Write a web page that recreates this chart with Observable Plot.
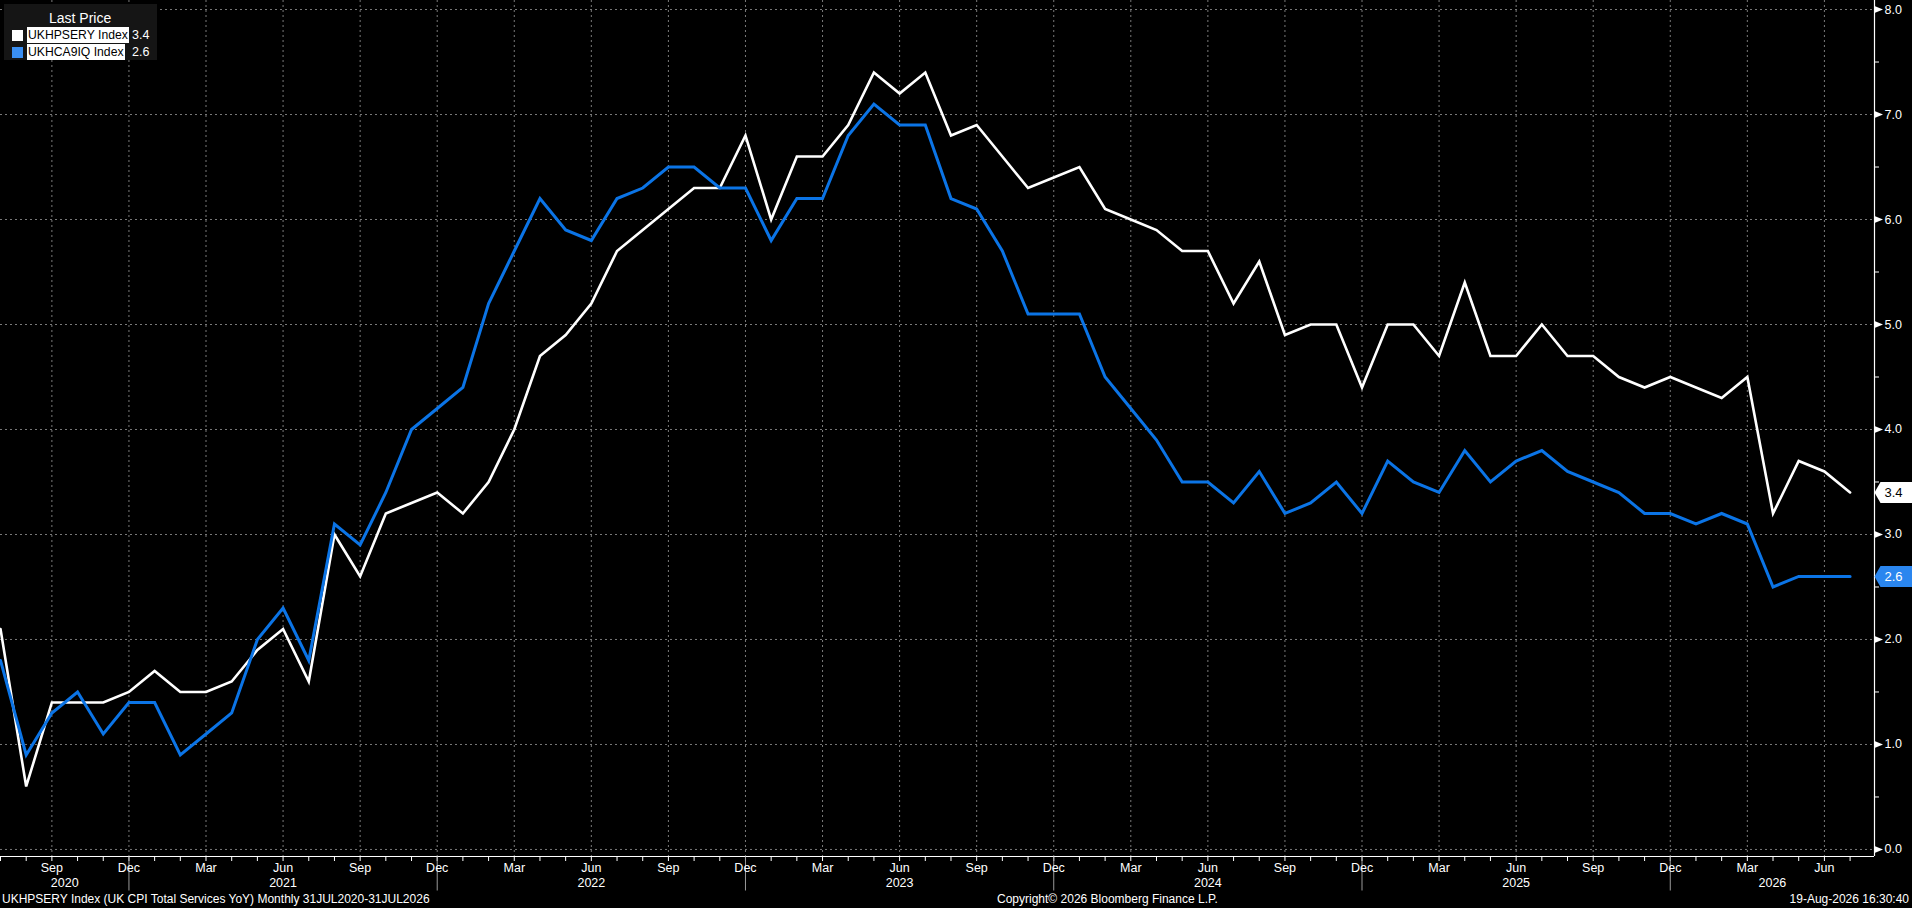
<!DOCTYPE html>
<html>
<head>
<meta charset="utf-8">
<script src="https://cdn.jsdelivr.net/npm/d3@7"></script>
<script src="https://cdn.jsdelivr.net/npm/@observablehq/plot@0.6"></script>
<style>
html, body { margin: 0; padding: 0; background: #000; }
#wrap { position: relative; width: 1912px; height: 908px; overflow: hidden; background: #000;
        font-family: "Liberation Sans", Arial, sans-serif; color: #fff; }
#chart { position: absolute; left: 0; top: 0; }
.abs { position: absolute; white-space: nowrap; }
#legendBox { position: absolute; left: 4px; top: 4px; width: 153px; height: 56px; background: #151515; }
.lgTitle { font-size: 14px; line-height: 16px; }
.lgName { background: #fff; color: #000; font-size: 12.2px; line-height: 16px; padding: 0 1px; }
.lgVal { font-size: 12.5px; line-height: 16px; color: #fff; }
.cap { font-size: 12px; line-height: 17px; color: #fff; }
</style>
</head>
<body>
<div id="wrap">
  <div id="chart"></div>
  <div id="legendBox"></div>
  <div id="legend"></div>
  <div id="caption"></div>
</div>
<script>
// ---------------- DATA ----------------
const firstMonth = "2020-07-01";
const lastMonth = "2026-07-01";

// UKHPSERY Index (UK CPI Total Services YoY), monthly Jul 2020 .. Jul 2026
const servicesYoY = [
  2.1, 0.6, 1.4, 1.4, 1.4, 1.5, 1.7, 1.5, 1.5, 1.6, 1.9, 2.1,
  1.6, 3.0, 2.6, 3.2, 3.3, 3.4, 3.2, 3.5, 4.0, 4.7, 4.9, 5.2,
  5.7, 5.9, 6.1, 6.3, 6.3, 6.8, 6.0, 6.6, 6.6, 6.9, 7.4, 7.2,
  7.4, 6.8, 6.9, 6.6, 6.3, 6.4, 6.5, 6.1, 6.0, 5.9, 5.7, 5.7,
  5.2, 5.6, 4.9, 5.0, 5.0, 4.4, 5.0, 5.0, 4.7, 5.4, 4.7, 4.7,
  5.0, 4.7, 4.7, 4.5, 4.4, 4.5, 4.4, 4.3, 4.5, 3.2, 3.7, 3.6,
  3.4
];

// UKHCA9IQ Index, monthly Jul 2020 .. Jul 2026
const coreYoY = [
  1.8, 0.9, 1.3, 1.5, 1.1, 1.4, 1.4, 0.9, 1.1, 1.3, 2.0, 2.3,
  1.8, 3.1, 2.9, 3.4, 4.0, 4.2, 4.4, 5.2, 5.7, 6.2, 5.9, 5.8,
  6.2, 6.3, 6.5, 6.5, 6.3, 6.3, 5.8, 6.2, 6.2, 6.8, 7.1, 6.9,
  6.9, 6.2, 6.1, 5.7, 5.1, 5.1, 5.1, 4.5, 4.2, 3.9, 3.5, 3.5,
  3.3, 3.6, 3.2, 3.3, 3.5, 3.2, 3.7, 3.5, 3.4, 3.8, 3.5, 3.7,
  3.8, 3.6, 3.5, 3.4, 3.2, 3.2, 3.1, 3.2, 3.1, 2.5, 2.6, 2.6,
  2.6
];

const seriesNames = ["UKHPSERY Index", "UKHCA9IQ Index"];
const seriesColors = ["#ffffff", "#0b74e6"];
const tagColors = ["#ffffff", "#2a86ef"];
const tagTextColors = ["#000000", "#ffffff"];
const legendSwatch = ["#ffffff", "#3a8ef2"];
const legendTitle = "Last Price";

const yTicks = [0, 1, 2, 3, 4, 5, 6, 7, 8];
const yMinorTicks = [0.5, 1.5, 2.5, 3.5, 4.5, 5.5, 6.5, 7.5];
const monthNames = ["Jan","Feb","Mar","Apr","May","Jun","Jul","Aug","Sep","Oct","Nov","Dec"];
const quarterMonths = [2, 5, 8, 11]; // Mar, Jun, Sep, Dec (0-based)

const captionLeft = "UKHPSERY Index (UK CPI Total Services YoY) Monthly 31JUL2020-31JUL2026";
const captionCenter = "Copyright\u00A9 2026 Bloomberg Finance L.P.";
const captionRight = "19-Aug-2026 16:30:40";

// ---------------- BUILD ----------------
const months = d3.utcMonth.range(new Date(firstMonth), d3.utcMonth.offset(new Date(lastMonth), 1));
const rows = months.map((m, i) => ({ i, date: m, s0: servicesYoY[i], s1: coreYoY[i] }));
const seriesKeys = ["s0", "s1"];
const series = [servicesYoY, coreYoY];

const X_END = 72.95;            // right edge of the time axis (month index)
const Y_MIN = -0.067, Y_MAX = 8.086;

const monthIdx = rows.map(r => r.i);
const quarterIdx = rows.filter(r => quarterMonths.includes(r.date.getUTCMonth())).map(r => r.i);
const sepIdx = rows.filter(r => r.date.getUTCMonth() === 11).map(r => r.i);
const bounds = [0, ...sepIdx, X_END];
const yearLabels = [];
for (let k = 0; k < bounds.length - 1; k++) {
  const a = bounds[k], b = bounds[k + 1];
  const yr = months[Math.min(Math.ceil(a) + (k === 0 ? 0 : 1), months.length - 1)].getUTCFullYear();
  yearLabels.push({ x: (a + b) / 2, text: String(yr) });
}

// custom symbols
const tickDown = { draw(c) { c.moveTo(0, 0); c.lineTo(0, 4.5); } };
const sepDown = { draw(c) { c.moveTo(0, 0); c.lineTo(0, 34); } };
const tickRight = { draw(c) { c.moveTo(0, 0); c.lineTo(4.5, 0); } };
const arrowRight = { draw(c) { c.moveTo(0, -3.5); c.lineTo(8.5, 0); c.lineTo(0, 3.5); c.closePath(); } };
const tagShape = { draw(c) { c.moveTo(0, 0); c.lineTo(6, -10.5); c.lineTo(40, -10.5); c.lineTo(40, 10.5); c.lineTo(6, 10.5); c.closePath(); } };

const gridColor = "#7a7a7a";
const marks = [
  Plot.ruleY(yTicks, { stroke: gridColor, strokeDasharray: "2,3", strokeWidth: 1 }),
  Plot.ruleX(quarterIdx, { stroke: gridColor, strokeDasharray: "2,3", strokeWidth: 1 }),
  // axes lines
  Plot.ruleY([Y_MIN], { stroke: "#fff", strokeWidth: 1.2 }),
  Plot.ruleX([X_END], { stroke: "#fff", strokeWidth: 1.2 }),
  // x ticks
  Plot.dot(monthIdx, { x: d => d, y: Y_MIN, symbol: tickDown, stroke: "#fff", fill: "none", strokeWidth: 1 }),
  Plot.dot(sepIdx, { x: d => d, y: Y_MIN, symbol: sepDown, stroke: "#9a9a9a", fill: "none", strokeWidth: 1 }),
  Plot.text(quarterIdx, { x: d => d, y: Y_MIN, dy: 11, text: d => monthNames[months[d].getUTCMonth()],
    fill: "#fff", fontSize: 12.5, lineAnchor: "middle" }),
  Plot.text(yearLabels, { x: "x", y: Y_MIN, dy: 26, text: "text", fill: "#fff", fontSize: 12.5, lineAnchor: "middle" }),
  // y ticks
  Plot.dot(yMinorTicks, { x: X_END, y: d => d, symbol: tickRight, stroke: "#fff", fill: "none", strokeWidth: 1 }),
  Plot.dot(yTicks, { x: X_END, y: d => d, symbol: arrowRight, fill: "#fff", stroke: "none" }),
  Plot.text(yTicks, { x: X_END, y: d => d, text: d => d.toFixed(1), textAnchor: "start", dx: 10,
    fill: "#fff", fontSize: 12.5, lineAnchor: "middle" })
];

// lines: white first, blue on top
[0, 1].forEach(k => {
  marks.push(Plot.line(rows, { x: "i", y: seriesKeys[k], stroke: seriesColors[k],
    strokeWidth: k === 0 ? 2.6 : 3, strokeLinejoin: "miter", strokeMiterlimit: 4, curve: "linear" }));
});

// last value tags
[0, 1].forEach(k => {
  const last = [{ v: series[k][series[k].length - 1] }];
  marks.push(Plot.dot(last, { x: X_END, y: "v", symbol: tagShape, fill: tagColors[k], stroke: "none" }));
  marks.push(Plot.text(last, { x: X_END, y: "v", text: d => d.v.toFixed(1), dx: 19, textAnchor: "middle",
    lineAnchor: "middle", fill: tagTextColors[k], fontSize: 13 }));
});

const chart = Plot.plot({
  width: 1912,
  height: 891,
  marginTop: 0,
  marginLeft: 0,
  marginRight: 38,
  marginBottom: 35,
  style: { background: "#000", color: "#fff", fontFamily: "'Liberation Sans', Arial, sans-serif", fontSize: "12px", overflow: "visible" },
  x: { type: "linear", domain: [0, X_END], axis: null },
  y: { type: "linear", domain: [Y_MIN, Y_MAX], axis: null },
  marks
});
document.getElementById("chart").appendChild(chart);

// ---------------- LEGEND ----------------
const lg = document.getElementById("legend");
const t = document.createElement("div");
t.className = "abs lgTitle"; t.textContent = legendTitle;
t.style.left = "49px"; t.style.top = "10px";
lg.appendChild(t);
seriesNames.forEach((name, k) => {
  const top = 27 + k * 17;
  const sw = document.createElement("div");
  sw.className = "abs";
  sw.style.cssText = `left:12px;top:${top + 3}px;width:11px;height:11px;background:${legendSwatch[k]};`;
  lg.appendChild(sw);
  const nm = document.createElement("div");
  nm.className = "abs lgName"; nm.textContent = name;
  nm.style.left = "27px"; nm.style.top = top + "px";
  lg.appendChild(nm);
  const val = document.createElement("div");
  val.className = "abs lgVal"; val.textContent = series[k][series[k].length - 1].toFixed(1);
  val.style.left = "132px"; val.style.top = top + "px";
  lg.appendChild(val);
});

// ---------------- CAPTION ----------------
const cap = document.getElementById("caption");
[[captionLeft, "left:2px"], [captionCenter, "left:997px"], [captionRight, "right:3px"]].forEach(([txt, pos]) => {
  const d = document.createElement("div");
  d.className = "abs cap";
  d.style.cssText += `${pos};top:891px;`;
  d.textContent = txt;
  cap.appendChild(d);
});
</script>
</body>
</html>
